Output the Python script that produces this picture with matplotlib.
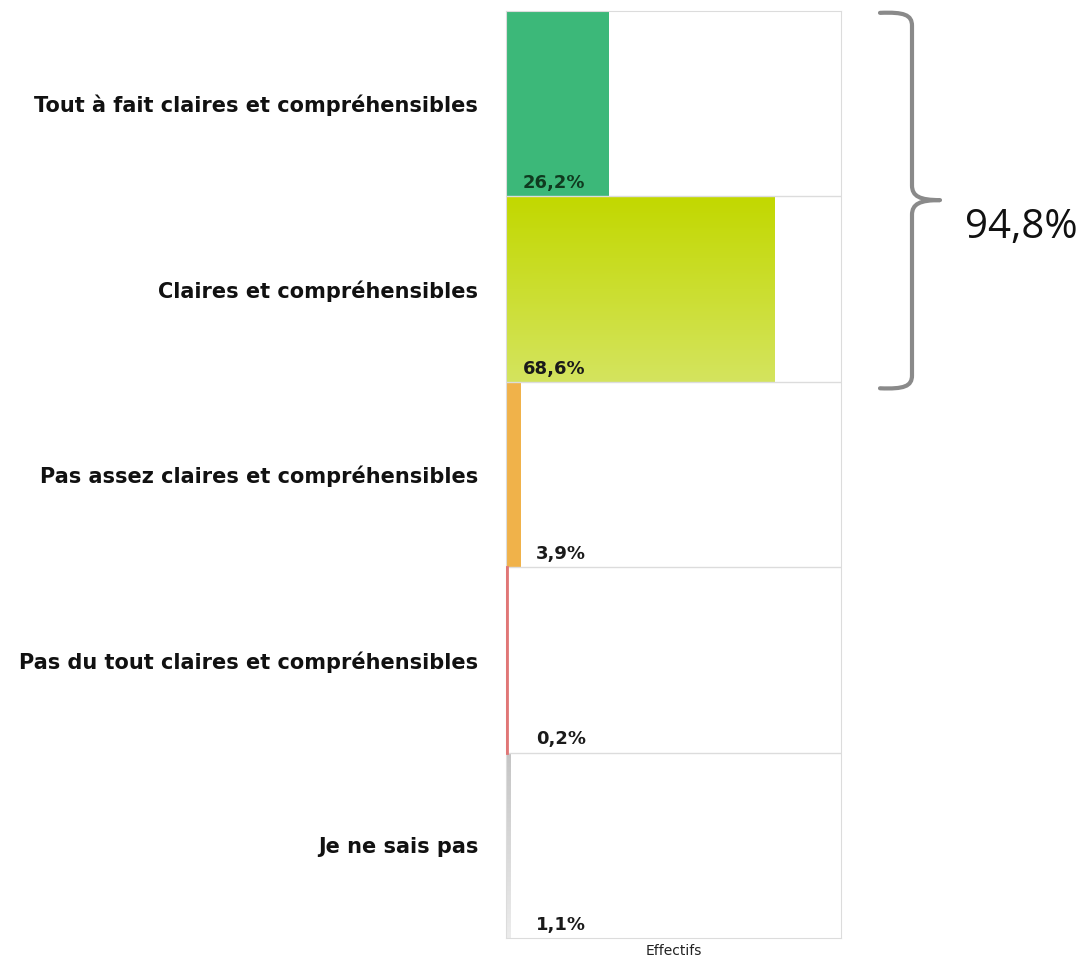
import matplotlib
matplotlib.use("Agg")
import matplotlib.pyplot as plt
import numpy as np
from matplotlib.path import Path
from matplotlib.patches import PathPatch
import matplotlib.transforms as mtransforms
from matplotlib.colors import LinearSegmentedColormap

categories = [
    "Tout à fait claires et compréhensibles",
    "Claires et compréhensibles",
    "Pas assez claires et compréhensibles",
    "Pas du tout claires et compréhensibles",
    "Je ne sais pas",
]
values = [26.2, 68.6, 3.9, 0.2, 1.1]
value_labels = ["26,2%", "68,6%", "3,9%", "0,2%", "1,1%"]
# top / bottom colours of each bar (gradient)
colors_top = ["#3cb879", "#c2d800", "#f0b24a", "#e07676", "#c4c4c4"]
colors_bottom = ["#3cb879", "#d4e45e", "#f0b24a", "#e07676", "#ececec"]
group_total = values[0] + values[1]

fig = plt.figure(figsize=(10.86, 9.63), dpi=100)
ax = fig.add_axes([506 / 1086, 1 - 938 / 963, 335 / 1086, 927 / 963])

y = np.arange(len(categories))

bars = ax.barh(y, values, height=1.0, color=colors_top, linewidth=0)
# very thin bars still need to show as a line
for bar, v, c in zip(bars, values, colors_top):
    if v < 0.5:
        bar.set_edgecolor(c)
        bar.set_linewidth(2)
        bar.set_zorder(4)
for bar, c1, c2 in zip(bars, colors_top, colors_bottom):
    if c1 != c2:
        cmap = LinearSegmentedColormap.from_list("g", [c1, c2])
        x0, y0 = bar.get_x(), bar.get_y()
        w, h = bar.get_width(), bar.get_height()
        im = ax.imshow(np.linspace(0, 1, 100).reshape(-1, 1), cmap=cmap,
                       aspect="auto", extent=[x0, x0 + w, y0 + h, y0],
                       interpolation="bicubic", zorder=2)
        im.set_clip_path(bar)
ax.set_xlim(0, 85.5)
ax.set_ylim(len(categories) - 0.5, -0.5)

# row boxes
for i in range(len(categories) - 1):
    ax.axhline(i + 0.5, color="#dcdcdc", lw=1, zorder=3)
for s in ax.spines.values():
    s.set_color("#dcdcdc")

ax.set_xticks([])
ax.set_yticks(y)
ax.set_yticklabels(categories, fontsize=15, fontweight="bold", color="#111111")
ax.tick_params(axis="y", length=0, pad=20)
ax.set_xlabel("Effectifs", fontsize=10, color="#222222", labelpad=4)

# value labels at bottom of each row
for i, (v, lab) in enumerate(zip(values, value_labels)):
    dx = 12 if v > 10 else 21.5
    color = "#0f3a1f" if i == 0 else "#1a1a1a"
    tr = ax.transData + mtransforms.ScaledTranslation(dx / 72, 3 / 72, fig.dpi_scale_trans)
    ax.text(0, i + 0.5, lab, transform=tr, fontsize=13, fontweight="bold",
            color=color, ha="left", va="bottom", zorder=5)

# brace around the first two rows
bt = mtransforms.blended_transform_factory(ax.transAxes, ax.transData)
px = 1 / 335
xv = 1 + (912 - 841) * px
xl = 1 + (880 - 841) * px
xt = 1 + (940 - 841) * px
top, mid, bot = -0.49, 0.52, 1.535
verts = [
    (xl, top), (xv - 8 * px, top - 0.005), (xv, top + 0.01), (xv, top + 0.07),
    (xv, mid - 0.08),
    (xv, mid - 0.02), (xv + 8 * px, mid), (xt, mid),
    (xv + 8 * px, mid), (xv, mid + 0.02), (xv, mid + 0.08),
    (xv, bot - 0.07),
    (xv, bot - 0.01), (xv - 8 * px, bot + 0.005), (xl, bot),
]
codes = [Path.MOVETO, Path.CURVE4, Path.CURVE4, Path.CURVE4,
         Path.LINETO,
         Path.CURVE4, Path.CURVE4, Path.CURVE4,
         Path.CURVE4, Path.CURVE4, Path.CURVE4,
         Path.LINETO,
         Path.CURVE4, Path.CURVE4, Path.CURVE4]
brace = PathPatch(Path(verts, codes), transform=bt, fill=False,
                  edgecolor="#8a8a8a", lw=3, clip_on=False, capstyle="round",
                  joinstyle="round")
ax.add_patch(brace)
total_txt = f"{group_total:.1f}%".replace(".", ",")
ax.text(1 + (965 - 841) * px, 0.67, total_txt, transform=bt, fontsize=29,
        family="Open Sans", color="#111111", ha="left", va="center")

fig.savefig("out.png", dpi=100)
